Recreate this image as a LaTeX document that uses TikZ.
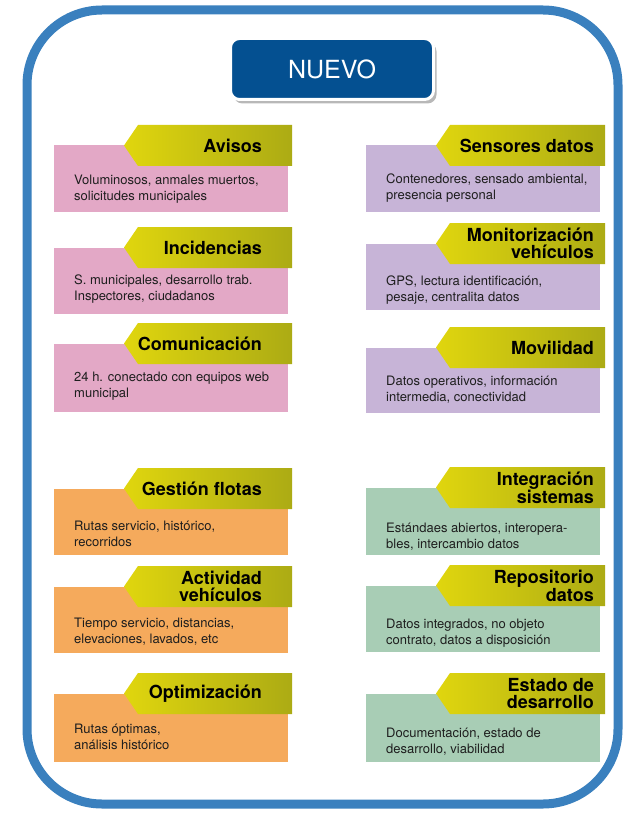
\documentclass[tikz,border=0pt]{standalone}
\usepackage{fontspec}
\setmainfont{TeX Gyre Heros}
\usetikzlibrary{shadows}
\definecolor{frameblue}{RGB}{58,128,190}
\definecolor{nuevoblue}{RGB}{4,80,145}
\definecolor{cpink}{RGB}{227,168,198}
\definecolor{cpurple}{RGB}{199,180,215}
\definecolor{corange}{RGB}{245,170,92}
\definecolor{cgreen}{RGB}{168,205,181}
\definecolor{tabL}{RGB}{224,214,14}
\definecolor{tabR}{RGB}{172,171,20}
\definecolor{bodytext}{RGB}{30,30,30}
\tikzset{
  titlestyle/.style={inner sep=0pt, align=right, font=\fontsize{18}{16.5}\selectfont\bfseries, text=black},
  bodystyle/.style={inner sep=0pt, align=left, font=\fontsize{13}{16}\selectfont, text=bodytext},
  tabshade/.style={left color=tabL, right color=tabR},
}
\newcommand{\card}[7]{%
  \pgfmathsetmacro\tabb{#3+41}%
  \pgfmathsetmacro\tabm{#3+20.5}%
  \pgfmathsetmacro\tipin{\tipx+14}%
  \fill[#2] (\bxl,\tabm) rectangle (\bxr,#4);
  \shade[tabshade] (\tipin,#3) -- (\tabr,#3) -- (\tabr,\tabb) -- (\tipin,\tabb) -- (\tipx,\tabm) -- cycle;
  \node[titlestyle, anchor=east] (#1-t) at (\ttlr,\tabm) {#6};
  \node[bodystyle, anchor=west] (#1-b) at (\bodyx,#5) {#7};
}
\begin{document}
\begin{tikzpicture}[x=1pt,y=-1pt]
\useasboundingbox (0,0) rectangle (622,813);
\fill[white] (0,0) rectangle (622,813);
\draw[frameblue, line width=9pt, rounded corners=75pt] (27,10) rectangle (618,804);
\node[draw=white, line width=3pt, fill=nuevoblue, rounded corners=9pt,
      minimum width=203pt, minimum height=61pt, inner sep=0pt,
      drop shadow={shadow xshift=3pt, shadow yshift=-4pt, fill=black!55},
      text=white, font=\fontsize{25}{25}\selectfont] (nuevo) at (332,69) {NUEVO};
% left column
\def\bxl{54}\def\bxr{288}\def\tipx{124}\def\tabr{292}\def\ttlr{262}\def\bodyx{74}
\card{avisos}{cpink}{125}{212}{189.5}{Avisos}{Voluminosos, anmales muertos,\\solicitudes municipales}
\card{incid}{cpink}{227}{314}{289}{Incidencias}{S. municipales, desarrollo trab.\\Inspectores, ciudadanos}
\card{comun}{cpink}{323}{412}{386}{Comunicación}{24 h. conectado con equipos web\\municipal}
\card{gestion}{corange}{468}{555}{534}{Gestión flotas}{Rutas servicio, histórico,\\recorridos}
\card{activ}{corange}{566}{653}{631.5}{Actividad\\vehículos}{Tiempo servicio, distancias,\\elevaciones, lavados, etc}
\card{optim}{corange}{673}{762}{736.5}{Optimización}{Rutas óptimas,\\análisis histórico}
% right column
\def\bxl{366}\def\bxr{600}\def\tipx{436}\def\tabr{605}\def\ttlr{594}\def\bodyx{386}
\card{sensores}{cpurple}{125}{212}{188}{Sensores datos}{Contenedores, sensado ambiental,\\presencia personal}
\card{monit}{cpurple}{223}{310}{290.5}{Monitorización\\vehículos}{GPS, lectura identificación,\\pesaje, centralita datos}
\card{movil}{cpurple}{327}{413}{389.5}{Movilidad}{Datos operativos, información\\intermedia, conectividad}
\card{integ}{cgreen}{467}{555}{537}{Integración\\sistemas}{Estándaes abiertos, interopera-\\bles, intercambio datos}
\card{repos}{cgreen}{565}{652}{633.5}{Repositorio\\datos}{Datos integrados, no objeto\\contrato, datos a disposición}
\card{estado}{cgreen}{673}{762}{741.5}{Estado de\\desarrollo}{Documentación, estado de\\desarrollo, viabilidad}
\end{tikzpicture}
\end{document}
